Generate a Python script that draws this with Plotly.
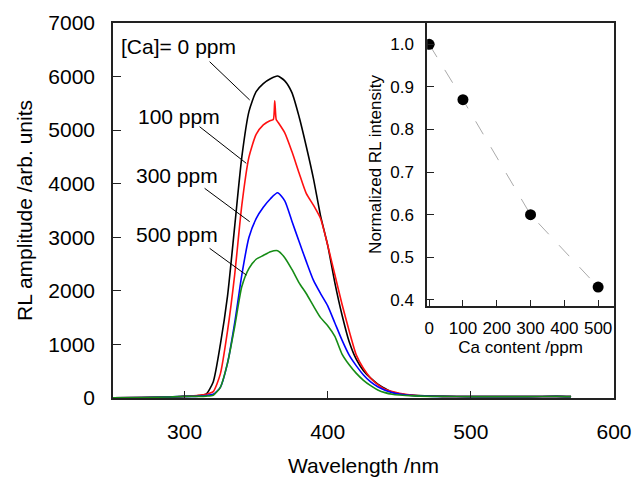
import plotly.graph_objects as go

# ---------------- data ----------------
wl = [250, 270, 290, 300, 305, 310, 315, 320, 325, 330, 335, 340, 345, 350, 355, 360,
      365, 370, 375, 380, 385, 390, 395, 400, 405, 410, 415, 420, 425, 430, 435, 440,
      445, 450, 460, 480, 500, 520, 540, 560, 570]

rl_0ppm = [5, 10, 20, 30, 35, 45, 70, 300, 1000, 1900, 3200, 4500, 5350, 5720, 5870, 5960,
           6010, 5920, 5700, 5250, 4700, 4100, 3400, 2850, 2150, 1550, 1050, 720, 510, 370, 260, 180,
           110, 80, 50, 30, 25, 25, 25, 30, 25]

wl_100 = [250, 270, 290, 300, 305, 310, 315, 320, 325, 330, 335, 340, 345, 350, 355, 360,
          362, 363, 364, 365, 370, 375, 380, 385, 390, 395, 400, 405, 410, 415, 420, 425,
          430, 435, 440, 445, 450, 460, 480, 500, 520, 540, 560, 570]
rl_100ppm = [5, 10, 20, 30, 40, 50, 70, 120, 450, 1250, 2300, 3600, 4500, 4920, 5100, 5180,
             5200, 5550, 5200, 5160, 4950, 4600, 4200, 3820, 3600, 3350, 2850, 2300, 1750, 1250, 800, 550,
             370, 250, 165, 120, 90, 50, 30, 25, 25, 25, 30, 25]

rl_300ppm = [5, 10, 20, 30, 30, 35, 45, 70, 200, 650, 1400, 2300, 3000, 3350, 3560, 3720,
             3830, 3680, 3300, 2920, 2550, 2200, 1950, 1720, 1400, 1080, 800, 600, 430, 300, 210, 145,
             100, 75, 45, 30, 25, 25, 25, 30, 25]

rl_500ppm = [5, 10, 20, 30, 30, 30, 35, 50, 200, 650, 1330, 2080, 2420, 2590, 2660, 2730,
             2750, 2620, 2400, 2150, 1950, 1720, 1500, 1350, 1150, 820, 620, 460, 330, 230, 150, 100,
             70, 55, 40, 30, 25, 25, 25, 30, 25]

series_names = ["0 ppm", "100 ppm", "300 ppm", "500 ppm"]
series_colors = ["black", "#ff1010", "#0000ff", "#168c16"]

# inset
ca_ppm = [0, 100, 300, 500]
norm_rl = [1.0, 0.87, 0.60, 0.43]

# labels and leader lines (data coordinates of the main axes)
label_text = ["[Ca]= 0 ppm", "100 ppm", "300 ppm", "500 ppm"]
label_x = [296, 296, 294.5, 294.5]
label_y = [6560, 5250, 4150, 3060]
lead_x0 = [317.5, 310.5, 314, 317.5]
lead_y0 = [6278, 5064, 3914, 2794]
lead_x1 = [345.5, 343.1, 345.5, 343.1]
lead_y1 = [5563, 4381, 3291, 2296]

main_xticks = [300, 400, 500, 600]
main_yticks = [0, 1000, 2000, 3000, 4000, 5000, 6000, 7000]
inset_xticks = [0, 100, 200, 300, 400, 500]
inset_yticks = [0.4, 0.5, 0.6, 0.7, 0.8, 0.9, 1.0]

# ---------------- figure ----------------
FONT = "Liberation Sans, Arial, sans-serif"
AX = "#222222"

fig = go.Figure()
xs = [wl, wl_100, wl, wl]
ys = [rl_0ppm, rl_100ppm, rl_300ppm, rl_500ppm]
for x, y, n, c in zip(xs, ys, series_names, series_colors):
    fig.add_trace(go.Scatter(x=x, y=y, mode="lines", name=n,
                             line=dict(color=c, width=1.6, shape="spline", smoothing=0.6),
                             xaxis="x", yaxis="y"))

fig.add_trace(go.Scatter(x=ca_ppm, y=norm_rl, mode="lines+markers",
                         line=dict(color="#aaaaaa", width=1, dash="longdash"),
                         marker=dict(color="black", size=11),
                         xaxis="x2", yaxis="y2"))

for t, x, y in zip(label_text, label_x, label_y):
    fig.add_annotation(x=x, y=y, xref="x", yref="y", text=t, showarrow=False,
                       font=dict(size=21, color="black", family=FONT))
for x0, y0, x1, y1 in zip(lead_x0, lead_y0, lead_x1, lead_y1):
    fig.add_shape(type="line", xref="x", yref="y", x0=x0, y0=y0, x1=x1, y1=y1,
                  line=dict(color="black", width=1))

fig.update_layout(
    width=634, height=477,
    margin=dict(l=113, r=20, t=23, b=79),
    paper_bgcolor="white", plot_bgcolor="white",
    showlegend=False,
    font=dict(family=FONT, size=21, color="black"),
    xaxis=dict(domain=[0, 1], range=[250, 600], tickvals=main_xticks, automargin=False,
               ticks="inside", ticklen=7, tickwidth=1.2, tickcolor=AX,
               showline=True, linecolor=AX, linewidth=1.5, mirror=True,
               showgrid=False, zeroline=False, ticklabelstandoff=14,
               title=dict(text="Wavelength /nm", standoff=24, font=dict(size=21)),
               tickfont=dict(size=21)),
    yaxis=dict(domain=[0, 1], range=[0, 7000], tickvals=main_yticks, automargin=False,
               ticks="inside", ticklen=8, tickwidth=1.2, tickcolor=AX,
               showline=True, linecolor=AX, linewidth=1.5, mirror=True,
               showgrid=False, zeroline=False, ticklabelstandoff=12,
               title=dict(text="RL amplitude /arb. units", standoff=10, font=dict(size=21)),
               tickfont=dict(size=21)),
    xaxis2=dict(domain=[0.627, 1], anchor="y2", range=[-6, 547], tickvals=inset_xticks,
                automargin=False,
                ticks="inside", ticklen=6, tickwidth=1.2, tickcolor=AX,
                showline=True, linecolor=AX, linewidth=1.5,
                showgrid=False, zeroline=False, ticklabelstandoff=6,
                title=dict(text="Ca content /ppm", standoff=2, font=dict(size=17)),
                tickfont=dict(size=17)),
    yaxis2=dict(domain=[0.2457, 1], anchor="x2", range=[0.386, 1.05], tickvals=inset_yticks,
                tickformat=".1f", automargin=False,
                ticks="inside", ticklen=7, tickwidth=1.2, tickcolor=AX,
                showline=True, linecolor=AX, linewidth=1.5,
                showgrid=False, zeroline=False, ticklabelstandoff=8,
                title=dict(text="Normalized RL intensity", standoff=4, font=dict(size=17)),
                tickfont=dict(size=17)),
)

fig.write_html("out.html")
